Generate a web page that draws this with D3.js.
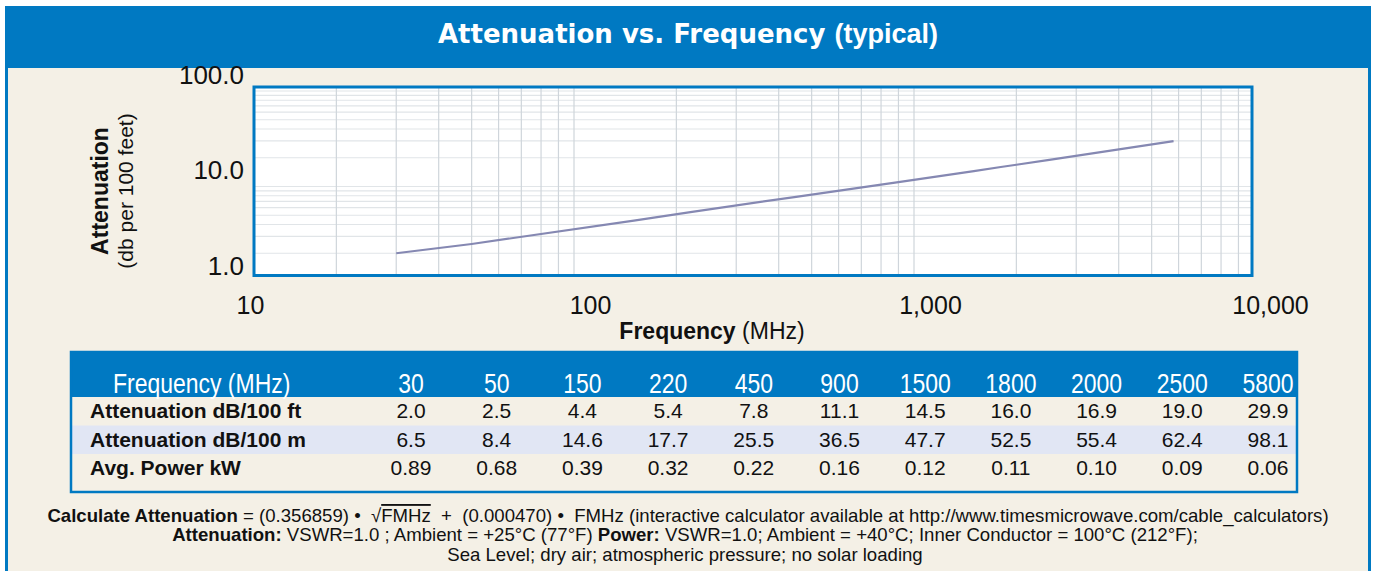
<!DOCTYPE html>
<html>
<head>
<meta charset="utf-8">
<script src="https://cdn.jsdelivr.net/npm/d3@7"></script>
<style>
  body { margin: 0; background: #fff; }
  svg text { font-family: "Liberation Sans", Arial, sans-serif; }
</style>
</head>
<body>
<div id="chart"></div>
<script>
// chart data
let freqs = [30, 50, 150, 220, 450, 900, 1500, 1800, 2000, 2500, 5800];
let attenFt = [2.0, 2.5, 4.4, 5.4, 7.8, 11.1, 14.5, 16.0, 16.9, 19.0, 29.9];
let attenM = [6.5, 8.4, 14.6, 17.7, 25.5, 36.5, 47.7, 52.5, 55.4, 62.4, 98.1];
let powerKw = [0.89, 0.68, 0.39, 0.32, 0.22, 0.16, 0.12, 0.11, 0.10, 0.09, 0.06];
let rowLabels = ["Attenuation dB/100 ft", "Attenuation dB/100 m", "Avg. Power kW"];
let xTicks = [10, 100, 1000, 10000];
let yTicks = [1, 10, 100];

let width = 1377, height = 571;
let blue = "#0079c2", beige = "#f4f0e6";

let svg = d3.select("#chart")
  .append("svg")
  .attr("width", width)
  .attr("height", height)

// squeeze text to a condensed look (no narrow font installed)
function condense(sel, k) {
  sel.each(function() {
    let w = this.getComputedTextLength();
    d3.select(this).attr("textLength", w * k).attr("lengthAdjust", "spacingAndGlyphs");
  });
}

// frame + title bar
svg.append("rect").attr("x", 6).attr("y", 6).attr("width", 1364).attr("height", 570).attr("fill", beige)
svg.append("rect").attr("x", 5).attr("y", 6).attr("width", 1366).attr("height", 62).attr("fill", blue)
svg.append("line").attr("x1", 6.5).attr("x2", 6.5).attr("y1", 6).attr("y2", height).attr("stroke", blue).attr("stroke-width", 3)
svg.append("line").attr("x1", 1369.5).attr("x2", 1369.5).attr("y1", 6).attr("y2", height).attr("stroke", blue).attr("stroke-width", 3)

let title = svg.append("text").attr("x", 688).attr("y", 43).attr("text-anchor", "middle").attr("fill", "#fff")
title.append("tspan").text("Attenuation vs. Frequency ").style("font-family", "'DejaVu Sans', sans-serif").style("font-weight", "bold").style("font-size", "26px")
title.append("tspan").text("(typical)").style("font-weight", "bold").style("font-size", "27px")

// plot area
let box = {left: 254, right: 1252, top: 87, bottom: 275.5};

let x = d3.scaleLog().domain([10, 10000]).range([234, 1254]);
let y = d3.scaleLog().domain([1, 100]).range([282, 91]);

svg.append("rect")
  .attr("x", box.left).attr("y", box.top)
  .attr("width", box.right - box.left).attr("height", box.bottom - box.top)
  .attr("fill", "#fff")

let xGrid = [], yGrid = [];
[10, 100, 1000].forEach(dec => d3.range(1, 10).forEach(k => xGrid.push(k * dec)));
xGrid.push(10000);
[1, 10, 100].forEach(dec => d3.range(1, 10).forEach(k => yGrid.push(k * dec)));
xGrid = xGrid.filter(v => x(v) > box.left + 2 && x(v) < box.right - 2);
yGrid = yGrid.filter(v => y(v) > box.top + 2 && y(v) < box.bottom - 2);

svg.append("g")
  .selectAll("line")
  .data(yGrid)
  .enter()
  .append("line")
  .attr("x1", box.left).attr("x2", box.right)
  .attr("y1", d => y(d)).attr("y2", d => y(d))
  .attr("stroke", "#e1e5e8")
  .attr("stroke-width", 1.2)

svg.append("g")
  .selectAll("line")
  .data(xGrid)
  .enter()
  .append("line")
  .attr("x1", d => x(d)).attr("x2", d => x(d))
  .attr("y1", box.top).attr("y2", box.bottom)
  .attr("stroke", "#cfd5db")
  .attr("stroke-width", 1.2)

let points = freqs.map((f, i) => ({f: f, a: attenFt[i]}));
svg.append("path")
  .datum(points)
  .attr("d", d3.line().x(d => x(d.f)).y(d => y(d.a)))
  .attr("fill", "none")
  .attr("stroke", "#8588b2")
  .attr("stroke-width", 2.2)

svg.append("rect")
  .attr("x", box.left).attr("y", box.top)
  .attr("width", box.right - box.left).attr("height", box.bottom - box.top)
  .attr("fill", "none")
  .attr("stroke", blue)
  .attr("stroke-width", 3)

// axes
let yAxis = svg.append("g")
  .attr("transform", "translate(244,0)")
  .call(d3.axisLeft(y).tickValues(yTicks).tickFormat(d3.format(".1f")).tickSize(0).tickPadding(0))
yAxis.select(".domain").remove()
yAxis.selectAll("text").attr("dy", "-0.3em").style("font-size", "26px").attr("fill", "#111").style("font-family", "'Liberation Sans', Arial, sans-serif")

let xAxis = svg.append("g")
  .attr("transform", "translate(16,296)")
  .call(d3.axisBottom(x).tickValues(xTicks).tickFormat(d3.format(",")).tickSize(0).tickPadding(0))
xAxis.select(".domain").remove()
xAxis.selectAll("text").style("font-size", "25px").attr("fill", "#111").style("font-family", "'Liberation Sans', Arial, sans-serif")

let xTitle = svg.append("text").attr("x", 712).attr("y", 339).attr("text-anchor", "middle").attr("fill", "#111").style("font-size", "23px")
xTitle.append("tspan").text("Frequency ").style("font-weight", "bold")
xTitle.append("tspan").text("(MHz)")

let yTitle = svg.append("g").attr("transform", "translate(108,191) rotate(-90)")
yTitle.append("text").attr("text-anchor", "middle").attr("fill", "#111").style("font-size", "23px").style("font-weight", "bold").text("Attenuation")
yTitle.append("text").attr("y", 25).attr("text-anchor", "middle").attr("fill", "#111").style("font-size", "21px").text("(db per 100 feet)")

// table
let tbl = {left: 71, right: 1297, top: 352, head: 397, rowH: 28.5, bottom: 492};
let col = d3.scalePoint().domain(freqs).range([411, 1268]);
let rows = [attenFt, attenM, powerKw];
let fmts = [d3.format(".1f"), d3.format(".1f"), d3.format(".2f")];

svg.append("rect").attr("x", tbl.left).attr("y", tbl.top).attr("width", tbl.right - tbl.left).attr("height", tbl.head - tbl.top).attr("fill", blue)
svg.append("rect").attr("x", tbl.left).attr("y", tbl.head + tbl.rowH).attr("width", tbl.right - tbl.left).attr("height", tbl.rowH).attr("fill", "#e1e6f4")
svg.append("rect").attr("x", tbl.left).attr("y", tbl.top).attr("width", tbl.right - tbl.left).attr("height", tbl.bottom - tbl.top)
  .attr("fill", "none").attr("stroke", blue).attr("stroke-width", 2.5)

svg.append("text").attr("x", 113).attr("y", 393).attr("fill", "#fff").style("font-size", "28px").text("Frequency (MHz)")
  .call(condense, 0.82)
svg.append("g")
  .selectAll("text")
  .data(freqs)
  .enter()
  .append("text")
  .attr("x", d => col(d)).attr("y", 393)
  .attr("text-anchor", "middle").attr("fill", "#fff").style("font-size", "28px")
  .text(d => d)
  .call(condense, 0.82)

rows.forEach((vals, r) => {
  let ty = tbl.head + tbl.rowH * r + tbl.rowH / 2 + 7;
  svg.append("text").attr("x", 90).attr("y", ty).attr("fill", "#111").style("font-size", "21px").style("font-weight", "bold").text(rowLabels[r])
  svg.append("g")
    .selectAll("text")
    .data(vals)
    .enter()
    .append("text")
    .attr("x", (d, i) => col(freqs[i])).attr("y", ty)
    .attr("text-anchor", "middle").attr("fill", "#111").style("font-size", "21px")
    .text((d, i) => fmts[r](d))
})

// footer notes
let fs = "18.6px";
let f1 = svg.append("text").attr("x", 688).attr("y", 522).attr("text-anchor", "middle").attr("fill", "#111").style("font-size", fs).attr("xml:space", "preserve")
f1.append("tspan").text("Calculate Attenuation").style("font-weight", "bold")
f1.append("tspan").text(" = (0.356859) \u2022  \u221A")
f1.append("tspan").text("FMHz").style("text-decoration", "overline")
f1.append("tspan").text("  +  (0.000470) \u2022  FMHz (interactive calculator available at http://www.timesmicrowave.com/cable_calculators)")

let f2 = svg.append("text").attr("x", 685).attr("y", 541).attr("text-anchor", "middle").attr("fill", "#111").style("font-size", fs)
f2.append("tspan").text("Attenuation:").style("font-weight", "bold")
f2.append("tspan").text(" VSWR=1.0 ; Ambient = +25\u00B0C (77\u00B0F) ")
f2.append("tspan").text("Power:").style("font-weight", "bold")
f2.append("tspan").text(" VSWR=1.0; Ambient = +40\u00B0C; Inner Conductor = 100\u00B0C (212\u00B0F);")

svg.append("text").attr("x", 685).attr("y", 561).attr("text-anchor", "middle").attr("fill", "#111").style("font-size", fs)
  .text("Sea Level; dry air; atmospheric pressure; no solar loading")
</script>
</body>
</html>
